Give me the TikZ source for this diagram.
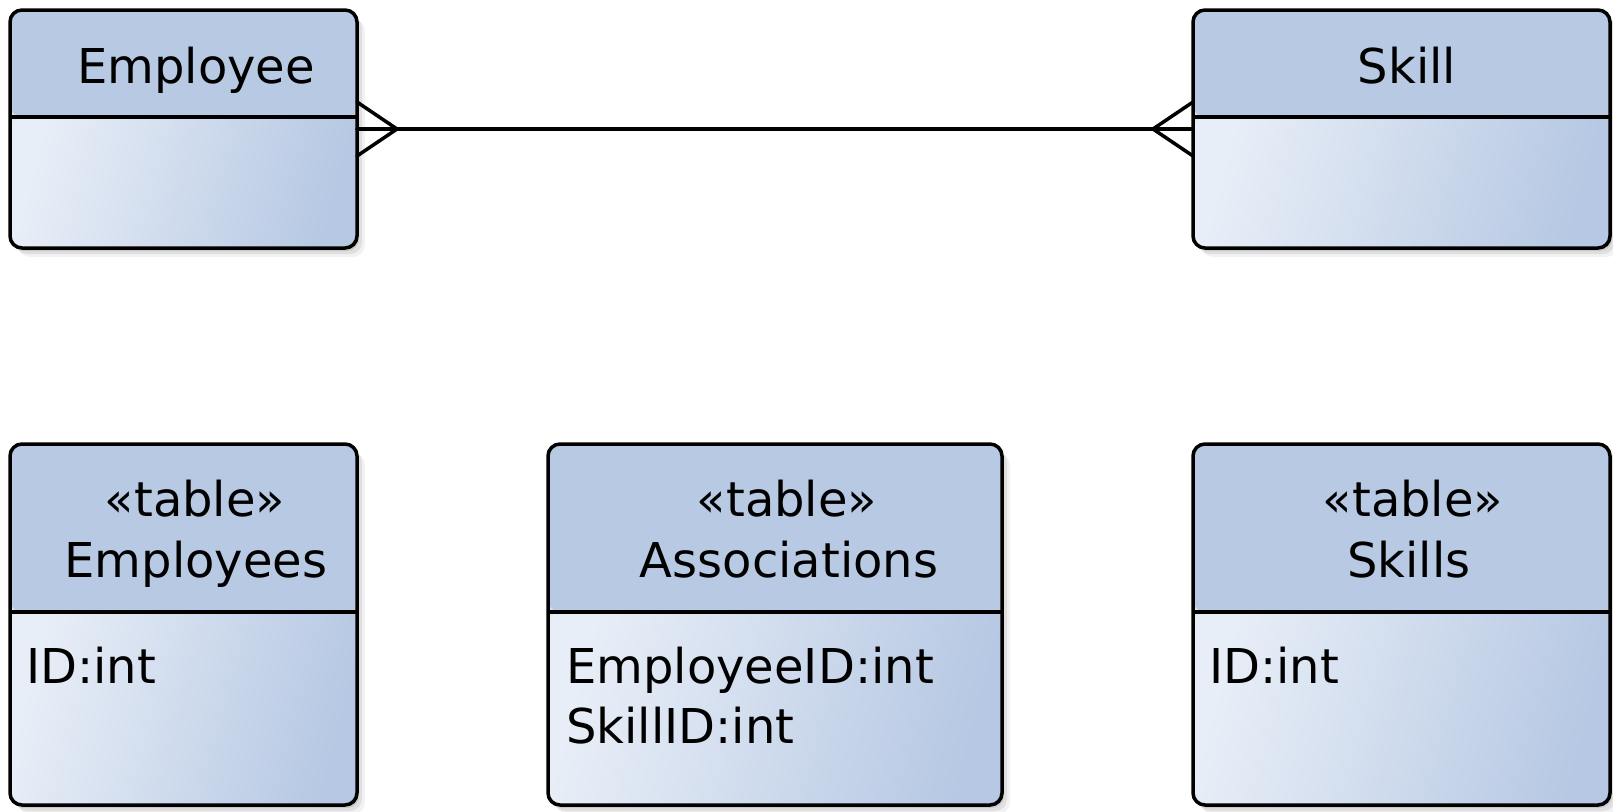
\documentclass[tikz,border=0pt]{standalone}
\usepackage{fontspec}
\setmainfont{DejaVu Sans}
\usetikzlibrary{shadows}
\definecolor{hdr}{RGB}{183,201,227}
\definecolor{bodyA}{RGB}{232,238,247}
\definecolor{bodyB}{RGB}{182,200,227}
\begin{document}
\begin{tikzpicture}[x=1pt,y=-1pt,
  entity/.style n args={3}{draw=black, line width=3.5pt, rounded corners=12pt,
    anchor=north west, inner sep=0pt, outer sep=0pt,
    minimum width=#1, minimum height=#2,
    drop shadow={shadow xshift=2pt, shadow yshift=-3pt, opacity=0.10, fill=black},
    drop shadow={shadow xshift=5pt, shadow yshift=-6pt, opacity=0.08, fill=black},
    drop shadow={shadow xshift=8pt, shadow yshift=-9pt, opacity=0.05, fill=black},
    path picture={
      \fill[hdr] (path picture bounding box.north west) rectangle ([yshift=-#3]path picture bounding box.north east);
      \shade[top color=bodyA, bottom color=bodyB, shading angle=75] ([yshift=-#3]path picture bounding box.north west) rectangle (path picture bounding box.south east);
      \draw[line width=3.5pt] ([yshift=-#3]path picture bounding box.north west) -- ([yshift=-#3]path picture bounding box.north east);
    }},
  lbl/.style={font=\fontsize{48}{62}\selectfont, inner sep=0pt, anchor=base},
  attr/.style={font=\fontsize{48}{62}\selectfont, inner sep=0pt, anchor=base west},
  link/.style={line width=3.5pt, line cap=round}
]
\useasboundingbox (0,0) rectangle (1613,811);

% top entities
\node[entity={347pt}{238pt}{107pt}] (emp) at (10,10) {};
\node[entity={417pt}{238pt}{107pt}] (skill) at (1193,10) {};
\node[lbl] (empT) at (196,83) {Employee};
\node[lbl] (skillT) at (1407,83) {Skill};

% connector with crow's feet
\draw[link] (emp.east) -- (skill.west);
\draw[link] ([yshift=27pt]emp.east) -- ([xshift=40pt]emp.east) -- ([yshift=-27pt]emp.east);
\draw[link] ([yshift=27pt]skill.west) -- ([xshift=-40pt]skill.west) -- ([yshift=-27pt]skill.west);

% bottom tables
\node[entity={347pt}{361pt}{168pt}] (emps) at (10,444) {};
\node[entity={454pt}{361pt}{168pt}] (assoc) at (548,444) {};
\node[entity={417pt}{361pt}{168pt}] (skills) at (1193,444) {};

\node[lbl] (empsS) at (195,516) {«table»};
\node[lbl] (empsT) at (196,577) {Employees};
\node[attr] (empsA) at (26,683) {ID:int};

\node[lbl] (assocS) at (787,516) {«table»};
\node[lbl] (assocT) at (789,577) {Associations};
\node[attr] (assocA) at (566,683) {EmployeeID:int};
\node[attr] (assocB) at (566,743) {SkillID:int};

\node[lbl] (skillsS) at (1413,516) {«table»};
\node[lbl] (skillsT) at (1409,577) {Skills};
\node[attr] (skillsA) at (1209,683) {ID:int};
\end{tikzpicture}
\end{document}
